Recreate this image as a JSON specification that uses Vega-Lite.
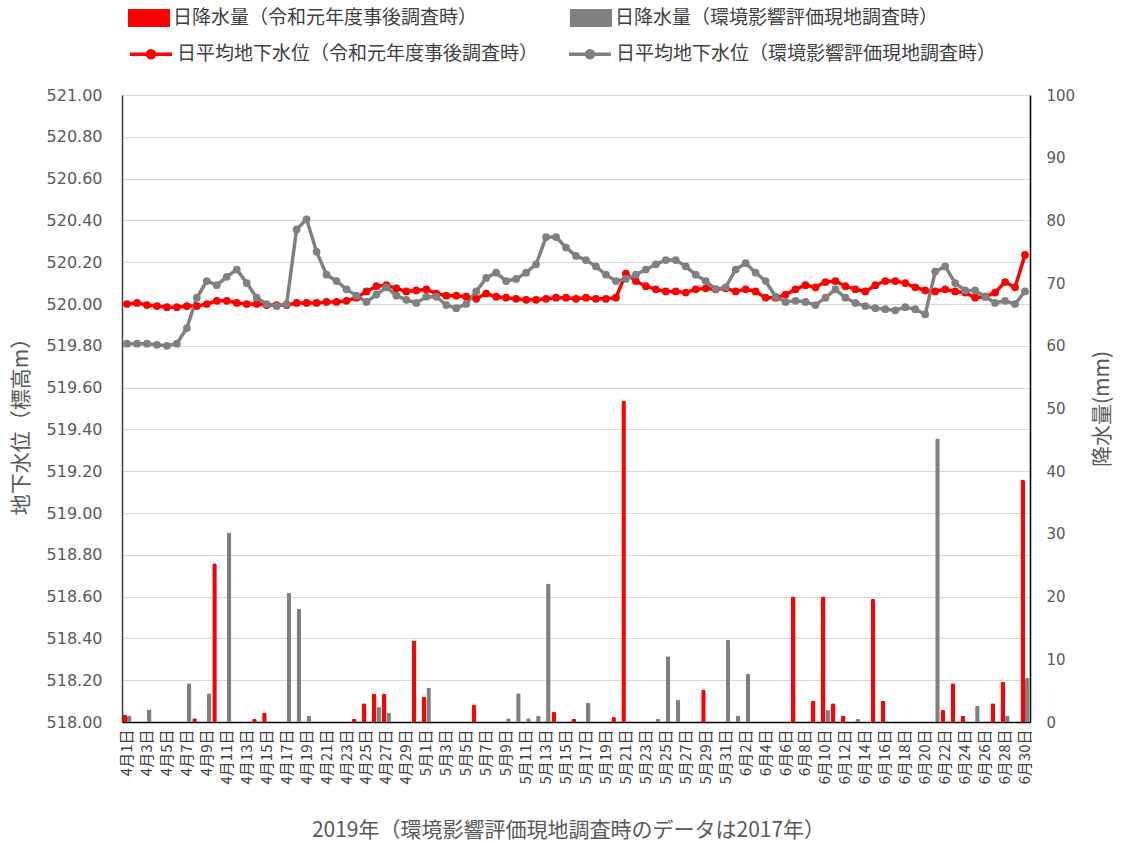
{
"$schema": "https://vega.github.io/schema/vega-lite/v6.json",
"width": 908, "height": 627,
"autosize": "none",
"padding": {"left": 122, "top": 95, "right": 91, "bottom": 121},
"background": "white",
"config": {
  "font": "Noto Sans CJK JP",
  "view": {"stroke": null},
  "axis": {"labelColor": "#595959", "titleColor": "#595959", "domainColor": "#404040", "domainWidth": 1.5, "ticks": false, "titleFontWeight": "normal", "titleFontSize": 21, "labelFontSize": 15},
  "legend": {"labelColor": "#404040", "labelFontSize": 19}
},
"data": {"values": [
{"d":"4月1日","s":"a","rain":1.2,"lvl":520.0},{"d":"4月1日","s":"b","rain":1.0,"lvl":519.81},
{"d":"4月2日","s":"a","rain":0,"lvl":520.005},{"d":"4月2日","s":"b","rain":0,"lvl":519.81},
{"d":"4月3日","s":"a","rain":0,"lvl":519.995},{"d":"4月3日","s":"b","rain":2.0,"lvl":519.81},
{"d":"4月4日","s":"a","rain":0,"lvl":519.99},{"d":"4月4日","s":"b","rain":0,"lvl":519.805},
{"d":"4月5日","s":"a","rain":0,"lvl":519.985},{"d":"4月5日","s":"b","rain":0,"lvl":519.8},
{"d":"4月6日","s":"a","rain":0,"lvl":519.985},{"d":"4月6日","s":"b","rain":0,"lvl":519.81},
{"d":"4月7日","s":"a","rain":0,"lvl":519.99},{"d":"4月7日","s":"b","rain":6.2,"lvl":519.885},
{"d":"4月8日","s":"a","rain":0.6,"lvl":519.99},{"d":"4月8日","s":"b","rain":0,"lvl":520.03},
{"d":"4月9日","s":"a","rain":0,"lvl":520.0},{"d":"4月9日","s":"b","rain":4.6,"lvl":520.11},
{"d":"4月10日","s":"a","rain":25.3,"lvl":520.015},{"d":"4月10日","s":"b","rain":0,"lvl":520.09},
{"d":"4月11日","s":"a","rain":0,"lvl":520.015},{"d":"4月11日","s":"b","rain":30.2,"lvl":520.13},
{"d":"4月12日","s":"a","rain":0,"lvl":520.005},{"d":"4月12日","s":"b","rain":0,"lvl":520.165},
{"d":"4月13日","s":"a","rain":0,"lvl":520.0},{"d":"4月13日","s":"b","rain":0,"lvl":520.1},
{"d":"4月14日","s":"a","rain":0.5,"lvl":520.0},{"d":"4月14日","s":"b","rain":0,"lvl":520.03},
{"d":"4月15日","s":"a","rain":1.5,"lvl":519.995},{"d":"4月15日","s":"b","rain":0,"lvl":520.0},
{"d":"4月16日","s":"a","rain":0,"lvl":519.995},{"d":"4月16日","s":"b","rain":0,"lvl":519.99},
{"d":"4月17日","s":"a","rain":0,"lvl":519.995},{"d":"4月17日","s":"b","rain":20.6,"lvl":520.0},
{"d":"4月18日","s":"a","rain":0,"lvl":520.005},{"d":"4月18日","s":"b","rain":18.1,"lvl":520.357},
{"d":"4月19日","s":"a","rain":0,"lvl":520.005},{"d":"4月19日","s":"b","rain":1.0,"lvl":520.405},
{"d":"4月20日","s":"a","rain":0,"lvl":520.005},{"d":"4月20日","s":"b","rain":0,"lvl":520.25},
{"d":"4月21日","s":"a","rain":0,"lvl":520.01},{"d":"4月21日","s":"b","rain":0,"lvl":520.14},
{"d":"4月22日","s":"a","rain":0,"lvl":520.01},{"d":"4月22日","s":"b","rain":0,"lvl":520.11},
{"d":"4月23日","s":"a","rain":0,"lvl":520.015},{"d":"4月23日","s":"b","rain":0,"lvl":520.07},
{"d":"4月24日","s":"a","rain":0.5,"lvl":520.03},{"d":"4月24日","s":"b","rain":0,"lvl":520.04},
{"d":"4月25日","s":"a","rain":3.0,"lvl":520.06},{"d":"4月25日","s":"b","rain":0,"lvl":520.01},
{"d":"4月26日","s":"a","rain":4.5,"lvl":520.085},{"d":"4月26日","s":"b","rain":2.4,"lvl":520.045},
{"d":"4月27日","s":"a","rain":4.5,"lvl":520.09},{"d":"4月27日","s":"b","rain":1.5,"lvl":520.08},
{"d":"4月28日","s":"a","rain":0,"lvl":520.075},{"d":"4月28日","s":"b","rain":0,"lvl":520.04},
{"d":"4月29日","s":"a","rain":0,"lvl":520.06},{"d":"4月29日","s":"b","rain":0,"lvl":520.02},
{"d":"4月30日","s":"a","rain":13.0,"lvl":520.065},{"d":"4月30日","s":"b","rain":0,"lvl":520.005},
{"d":"5月1日","s":"a","rain":4.0,"lvl":520.07},{"d":"5月1日","s":"b","rain":5.5,"lvl":520.035},
{"d":"5月2日","s":"a","rain":0,"lvl":520.05},{"d":"5月2日","s":"b","rain":0,"lvl":520.035},
{"d":"5月3日","s":"a","rain":0,"lvl":520.04},{"d":"5月3日","s":"b","rain":0,"lvl":519.995},
{"d":"5月4日","s":"a","rain":0,"lvl":520.04},{"d":"5月4日","s":"b","rain":0,"lvl":519.98},
{"d":"5月5日","s":"a","rain":0,"lvl":520.035},{"d":"5月5日","s":"b","rain":0,"lvl":520.0},
{"d":"5月6日","s":"a","rain":2.7,"lvl":520.025},{"d":"5月6日","s":"b","rain":0,"lvl":520.06},
{"d":"5月7日","s":"a","rain":0,"lvl":520.05},{"d":"5月7日","s":"b","rain":0,"lvl":520.125},
{"d":"5月8日","s":"a","rain":0,"lvl":520.035},{"d":"5月8日","s":"b","rain":0,"lvl":520.15},
{"d":"5月9日","s":"a","rain":0,"lvl":520.03},{"d":"5月9日","s":"b","rain":0.6,"lvl":520.11},
{"d":"5月10日","s":"a","rain":0,"lvl":520.025},{"d":"5月10日","s":"b","rain":4.6,"lvl":520.12},
{"d":"5月11日","s":"a","rain":0,"lvl":520.02},{"d":"5月11日","s":"b","rain":0.6,"lvl":520.15},
{"d":"5月12日","s":"a","rain":0,"lvl":520.02},{"d":"5月12日","s":"b","rain":1.0,"lvl":520.19},
{"d":"5月13日","s":"a","rain":0,"lvl":520.025},{"d":"5月13日","s":"b","rain":22.1,"lvl":520.32},
{"d":"5月14日","s":"a","rain":1.6,"lvl":520.03},{"d":"5月14日","s":"b","rain":0,"lvl":520.32},
{"d":"5月15日","s":"a","rain":0,"lvl":520.03},{"d":"5月15日","s":"b","rain":0,"lvl":520.27},
{"d":"5月16日","s":"a","rain":0.5,"lvl":520.025},{"d":"5月16日","s":"b","rain":0,"lvl":520.23},
{"d":"5月17日","s":"a","rain":0,"lvl":520.03},{"d":"5月17日","s":"b","rain":3.1,"lvl":520.21},
{"d":"5月18日","s":"a","rain":0,"lvl":520.025},{"d":"5月18日","s":"b","rain":0,"lvl":520.18},
{"d":"5月19日","s":"a","rain":0,"lvl":520.025},{"d":"5月19日","s":"b","rain":0,"lvl":520.14},
{"d":"5月20日","s":"a","rain":0.8,"lvl":520.03},{"d":"5月20日","s":"b","rain":0,"lvl":520.11},
{"d":"5月21日","s":"a","rain":51.2,"lvl":520.145},{"d":"5月21日","s":"b","rain":0,"lvl":520.12},
{"d":"5月22日","s":"a","rain":0,"lvl":520.11},{"d":"5月22日","s":"b","rain":0,"lvl":520.14},
{"d":"5月23日","s":"a","rain":0,"lvl":520.085},{"d":"5月23日","s":"b","rain":0,"lvl":520.165},
{"d":"5月24日","s":"a","rain":0,"lvl":520.07},{"d":"5月24日","s":"b","rain":0.5,"lvl":520.19},
{"d":"5月25日","s":"a","rain":0,"lvl":520.06},{"d":"5月25日","s":"b","rain":10.5,"lvl":520.21},
{"d":"5月26日","s":"a","rain":0,"lvl":520.06},{"d":"5月26日","s":"b","rain":3.5,"lvl":520.21},
{"d":"5月27日","s":"a","rain":0,"lvl":520.055},{"d":"5月27日","s":"b","rain":0,"lvl":520.18},
{"d":"5月28日","s":"a","rain":0,"lvl":520.07},{"d":"5月28日","s":"b","rain":0,"lvl":520.14},
{"d":"5月29日","s":"a","rain":5.1,"lvl":520.075},{"d":"5月29日","s":"b","rain":0,"lvl":520.11},
{"d":"5月30日","s":"a","rain":0,"lvl":520.07},{"d":"5月30日","s":"b","rain":0,"lvl":520.07},
{"d":"5月31日","s":"a","rain":0,"lvl":520.075},{"d":"5月31日","s":"b","rain":13.1,"lvl":520.08},
{"d":"6月1日","s":"a","rain":0,"lvl":520.06},{"d":"6月1日","s":"b","rain":1.0,"lvl":520.165},
{"d":"6月2日","s":"a","rain":0,"lvl":520.07},{"d":"6月2日","s":"b","rain":7.7,"lvl":520.195},
{"d":"6月3日","s":"a","rain":0,"lvl":520.06},{"d":"6月3日","s":"b","rain":0,"lvl":520.15},
{"d":"6月4日","s":"a","rain":0,"lvl":520.03},{"d":"6月4日","s":"b","rain":0,"lvl":520.11},
{"d":"6月5日","s":"a","rain":0,"lvl":520.03},{"d":"6月5日","s":"b","rain":0,"lvl":520.035},
{"d":"6月6日","s":"a","rain":0,"lvl":520.045},{"d":"6月6日","s":"b","rain":0,"lvl":520.01},
{"d":"6月7日","s":"a","rain":20.0,"lvl":520.07},{"d":"6月7日","s":"b","rain":0,"lvl":520.015},
{"d":"6月8日","s":"a","rain":0,"lvl":520.09},{"d":"6月8日","s":"b","rain":0,"lvl":520.01},
{"d":"6月9日","s":"a","rain":3.4,"lvl":520.08},{"d":"6月9日","s":"b","rain":0,"lvl":519.995},
{"d":"6月10日","s":"a","rain":20.0,"lvl":520.105},{"d":"6月10日","s":"b","rain":1.9,"lvl":520.03},
{"d":"6月11日","s":"a","rain":3.0,"lvl":520.11},{"d":"6月11日","s":"b","rain":0,"lvl":520.07},
{"d":"6月12日","s":"a","rain":1.0,"lvl":520.085},{"d":"6月12日","s":"b","rain":0,"lvl":520.03},
{"d":"6月13日","s":"a","rain":0,"lvl":520.07},{"d":"6月13日","s":"b","rain":0.5,"lvl":520.005},
{"d":"6月14日","s":"a","rain":0,"lvl":520.06},{"d":"6月14日","s":"b","rain":0,"lvl":519.99},
{"d":"6月15日","s":"a","rain":19.6,"lvl":520.09},{"d":"6月15日","s":"b","rain":0,"lvl":519.98},
{"d":"6月16日","s":"a","rain":3.4,"lvl":520.11},{"d":"6月16日","s":"b","rain":0,"lvl":519.975},
{"d":"6月17日","s":"a","rain":0,"lvl":520.11},{"d":"6月17日","s":"b","rain":0,"lvl":519.97},
{"d":"6月18日","s":"a","rain":0,"lvl":520.1},{"d":"6月18日","s":"b","rain":0,"lvl":519.985},
{"d":"6月19日","s":"a","rain":0,"lvl":520.08},{"d":"6月19日","s":"b","rain":0,"lvl":519.975},
{"d":"6月20日","s":"a","rain":0,"lvl":520.065},{"d":"6月20日","s":"b","rain":0,"lvl":519.95},
{"d":"6月21日","s":"a","rain":0,"lvl":520.06},{"d":"6月21日","s":"b","rain":45.2,"lvl":520.155},
{"d":"6月22日","s":"a","rain":1.9,"lvl":520.07},{"d":"6月22日","s":"b","rain":0,"lvl":520.18},
{"d":"6月23日","s":"a","rain":6.2,"lvl":520.06},{"d":"6月23日","s":"b","rain":0,"lvl":520.1},
{"d":"6月24日","s":"a","rain":1.0,"lvl":520.055},{"d":"6月24日","s":"b","rain":0,"lvl":520.065},
{"d":"6月25日","s":"a","rain":0,"lvl":520.03},{"d":"6月25日","s":"b","rain":2.6,"lvl":520.065},
{"d":"6月26日","s":"a","rain":0,"lvl":520.035},{"d":"6月26日","s":"b","rain":0,"lvl":520.035},
{"d":"6月27日","s":"a","rain":3.0,"lvl":520.055},{"d":"6月27日","s":"b","rain":0,"lvl":520.005},
{"d":"6月28日","s":"a","rain":6.4,"lvl":520.105},{"d":"6月28日","s":"b","rain":1.0,"lvl":520.015},
{"d":"6月29日","s":"a","rain":0,"lvl":520.08},{"d":"6月29日","s":"b","rain":0,"lvl":520.0},
{"d":"6月30日","s":"a","rain":38.6,"lvl":520.235},{"d":"6月30日","s":"b","rain":7.0,"lvl":520.06}
]},
"encoding": {
  "x": {"field": "d", "type": "nominal",
    "scale": {"paddingInner": 0, "paddingOuter": 0, "domain": ["4月1日","4月2日","4月3日","4月4日","4月5日","4月6日","4月7日","4月8日","4月9日","4月10日","4月11日","4月12日","4月13日","4月14日","4月15日","4月16日","4月17日","4月18日","4月19日","4月20日","4月21日","4月22日","4月23日","4月24日","4月25日","4月26日","4月27日","4月28日","4月29日","4月30日","5月1日","5月2日","5月3日","5月4日","5月5日","5月6日","5月7日","5月8日","5月9日","5月10日","5月11日","5月12日","5月13日","5月14日","5月15日","5月16日","5月17日","5月18日","5月19日","5月20日","5月21日","5月22日","5月23日","5月24日","5月25日","5月26日","5月27日","5月28日","5月29日","5月30日","5月31日","6月1日","6月2日","6月3日","6月4日","6月5日","6月6日","6月7日","6月8日","6月9日","6月10日","6月11日","6月12日","6月13日","6月14日","6月15日","6月16日","6月17日","6月18日","6月19日","6月20日","6月21日","6月22日","6月23日","6月24日","6月25日","6月26日","6月27日","6月28日","6月29日","6月30日"]},
    "axis": {"title": "2019年（環境影響評価現地調査時のデータは2017年）", "titleFontSize": 21, "titlePadding": 36, "titleX": 446, "labelAngle": -90, "labelAlign": "right", "labelBaseline": "middle", "labelPadding": 7, "labelFontSize": 15, "labelColor": "#404040", "domainColor": "#000000",
      "values": ["4月1日","4月3日","4月5日","4月7日","4月9日","4月11日","4月13日","4月15日","4月17日","4月19日","4月21日","4月23日","4月25日","4月27日","4月29日","5月1日","5月3日","5月5日","5月7日","5月9日","5月11日","5月13日","5月15日","5月17日","5月19日","5月21日","5月23日","5月25日","5月27日","5月29日","5月31日","6月2日","6月4日","6月6日","6月8日","6月10日","6月12日","6月14日","6月16日","6月18日","6月20日","6月22日","6月24日","6月26日","6月28日","6月30日"]}}
},
"layer": [
  {
    "transform": [{"filter": "datum.rain > 0"}],
    "mark": {"type": "bar", "cornerRadiusEnd": 1.5},
    "encoding": {
      "xOffset": {"field": "s", "type": "nominal", "scale": {"domain": ["a", "b"], "paddingInner": 0, "paddingOuter": 0.1}},
      "y": {"field": "rain", "type": "quantitative", "scale": {"domain": [0, 100], "nice": false},
        "axis": {"orient": "right", "title": "降水量(mm)", "titleAngle": -90, "values": [0,10,20,30,40,50,60,70,80,90,100], "labelFont": "DejaVu Sans", "labelFontSize": 15, "labelPadding": 16, "titlePadding": 38, "grid": false, "domainColor": "#000000"}},
      "fill": {"field": "s", "type": "nominal", "scale": {"domain": ["a", "b"], "range": ["#ff0000", "#808080"]},
        "legend": {"orient": "none", "legendX": 6, "legendY": -98, "direction": "horizontal", "columns": 2, "columnPadding": 92, "title": null, "symbolType": "M-1,-0.43H1V0.43H-1Z", "symbolSize": 1764, "symbolStrokeWidth": 0, "labelOffset": 3, "labelLimit": 600, "labelFontSize": 19,
          "labelExpr": "datum.label == 'a' ? '日降水量（令和元年度事後調査時）' : '日降水量（環境影響評価現地調査時）'"}}
    }
  },
  {
    "encoding": {
      "y": {"field": "lvl", "type": "quantitative", "scale": {"domain": [518, 521], "nice": false, "zero": false},
        "axis": {"orient": "left", "title": "地下水位（標高m）", "format": ".2f", "values": [518,518.2,518.4,518.6,518.8,519,519.2,519.4,519.6,519.8,520,520.2,520.4,520.6,520.8,521], "labelFont": "DejaVu Sans", "labelFontSize": 16, "labelPadding": 20, "titlePadding": 15, "titleY": 326, "grid": true, "gridColor": "#d9d9d9", "gridWidth": 1.2, "domainColor": "#404040"}},
      "color": {"field": "s", "type": "nominal", "scale": {"domain": ["b", "a"], "range": ["#808080", "#ff0000"]},
        "legend": {"orient": "none", "legendX": 6, "legendY": -64, "direction": "horizontal", "columns": 2, "columnPadding": 23, "title": null, "values": ["a", "b"], "symbolType": "M-1,0H1M0.17,0A0.17,0.17,0,1,1,-0.17,0A0.17,0.17,0,1,1,0.17,0", "symbolSize": 1764, "symbolStrokeWidth": 3.5, "labelOffset": 3, "labelLimit": 600, "labelFontSize": 19,
          "labelExpr": "datum.label == 'a' ? '日平均地下水位（令和元年度事後調査時）' : '日平均地下水位（環境影響評価現地調査時）'"}}
    },
    "layer": [
      {"mark": {"type": "line", "strokeWidth": 3.5}},
      {"mark": {"type": "point", "filled": true, "size": 60, "opacity": 1}}
    ]
  }
],
"resolve": {"scale": {"y": "independent"}}
}
